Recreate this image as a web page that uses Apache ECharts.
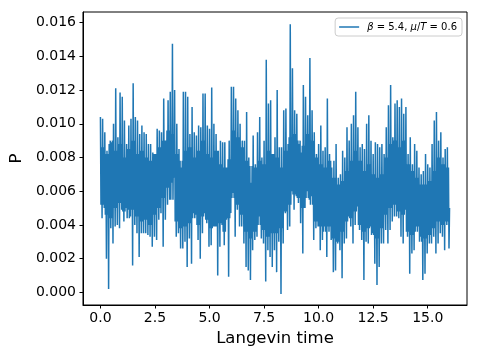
<!DOCTYPE html>
<html>
<head>
<meta charset="utf-8">
<script src="https://cdn.jsdelivr.net/npm/echarts@6/dist/echarts.min.js"></script>
<style>
html, body { margin: 0; padding: 0; background: #fff; }
#chart { width: 480px; height: 360px; }
</style>
</head>
<body>
<div id="chart"></div>
<script>
// Langevin time sampled every 0.1; for each step an upper and a lower excursion of P
const step = 0.1
const tEnd = 16.0
const pEnd = 0.0050

const highs = [
  0.01040, 0.01030, 0.00950, 0.00840, 0.00880, 0.00890, 0.01000, 0.01210, 0.00920, 0.01185,
  0.01160, 0.01020, 0.00880, 0.00990, 0.01030, 0.01240, 0.01040, 0.01020, 0.00940, 0.00990,
  0.00950, 0.00940, 0.00880, 0.00880, 0.00830, 0.00820, 0.00970, 0.00960, 0.00950, 0.01150,
  0.00900, 0.01140, 0.01190, 0.01475, 0.01200, 0.01000, 0.00850, 0.00740, 0.01190, 0.01190,
  0.01160, 0.00940, 0.01100, 0.00950, 0.00930, 0.00990, 0.00980, 0.01180, 0.01180, 0.00990,
  0.00970, 0.01215, 0.01000, 0.00940, 0.00840, 0.00900, 0.00890, 0.00890, 0.00740, 0.00900,
  0.01220, 0.01220, 0.01150, 0.01080, 0.01000, 0.00900, 0.00900, 0.01070, 0.00800, 0.00650,
  0.00930, 0.00760, 0.00950, 0.01040, 0.00800, 0.00900, 0.01380, 0.01120, 0.01140, 0.00820,
  0.00920, 0.01200, 0.00860, 0.00860, 0.01080, 0.01090, 0.00880, 0.01590, 0.01330, 0.01080,
  0.01060, 0.00880, 0.00830, 0.01230, 0.01160, 0.01050, 0.01390, 0.01080, 0.00950, 0.00820,
  0.00880, 0.00990, 0.00840, 0.00860, 0.01150, 0.00820, 0.00740, 0.00780, 0.00880, 0.00680,
  0.00700, 0.00840, 0.00800, 0.00980, 0.00900, 0.01000, 0.01050, 0.01190, 0.00980, 0.00860,
  0.00880, 0.00850, 0.01000, 0.01050, 0.00900, 0.00820, 0.00890, 0.00880, 0.00860, 0.00880,
  0.00820, 0.00980, 0.01110, 0.01230, 0.00920, 0.01120, 0.01140, 0.01100, 0.01150, 0.01060,
  0.01100, 0.00820, 0.00920, 0.00760, 0.00880, 0.00840, 0.00740, 0.00700, 0.00720, 0.00820,
  0.00760, 0.00740, 0.00880, 0.01020, 0.01070, 0.00900, 0.00950, 0.00800, 0.00850, 0.00860
]

const lows = [
  0.00440, 0.00500, 0.00200, 0.00020, 0.00380, 0.00290, 0.00390, 0.00400, 0.00380, 0.00490,
  0.00420, 0.00500, 0.00490, 0.00450, 0.00160, 0.00400, 0.00350, 0.00210, 0.00350, 0.00350,
  0.00350, 0.00340, 0.00330, 0.00270, 0.00330, 0.00310, 0.00430, 0.00470, 0.00270, 0.00430,
  0.00520, 0.00550, 0.00650, 0.00680, 0.00330, 0.00350, 0.00260, 0.00260, 0.00300, 0.00150,
  0.00320, 0.00170, 0.00470, 0.00460, 0.00310, 0.00200, 0.00350, 0.00470, 0.00410, 0.00270,
  0.00280, 0.00390, 0.00390, 0.00100, 0.00270, 0.00400, 0.00280, 0.00430, 0.00093, 0.00470,
  0.00590, 0.00330, 0.00490, 0.00390, 0.00390, 0.00290, 0.00150, 0.00130, 0.00073, 0.00250,
  0.00310, 0.00330, 0.00450, 0.00320, 0.00290, 0.00064, 0.00250, 0.00210, 0.00150, 0.00250,
  0.00120, 0.00300, -0.00010, 0.00290, 0.00470, 0.00370, 0.00390, 0.00600, 0.00490, 0.00570,
  0.00530, 0.00410, 0.00230, 0.00500, 0.00600, 0.00550, 0.00570, 0.00310, 0.00380, 0.00390,
  0.00250, 0.00310, 0.00390, 0.00210, 0.00360, 0.00310, 0.00120, 0.00130, 0.00290, 0.00250,
  0.00083, 0.00290, 0.00320, 0.00450, 0.00390, 0.00290, 0.00400, 0.00510, 0.00370, 0.00310,
  0.00073, 0.00300, 0.00290, 0.00390, 0.00350, 0.00170, 0.00044, 0.00150, 0.00290, 0.00290,
  0.00370, 0.00290, 0.00370, 0.00420, 0.00450, 0.00450, 0.00440, 0.00330, 0.00290, 0.00490,
  0.00330, 0.00110, 0.00230, 0.00250, 0.00390, 0.00390, 0.00330, 0.00073, 0.00110, 0.00230,
  0.00290, 0.00290, 0.00330, 0.00230, 0.00290, 0.00350, 0.00330, 0.00250, 0.00400, 0.00260
]

// edges of the dense core of the trace, one value per 0.2 of Langevin time
const coreBlock = 0.2
const coreHigh = [
  0.0086, 0.0082, 0.0090, 0.0084, 0.0088, 0.0080, 0.0085, 0.0090, 0.0082, 0.0084,
  0.0080, 0.0078, 0.0082, 0.0086, 0.0090, 0.0096, 0.0094, 0.0082, 0.0078, 0.0084,
  0.0086, 0.0080, 0.0084, 0.0090, 0.0082, 0.0080, 0.0084, 0.0076, 0.0074, 0.0079,
  0.0096, 0.0092, 0.0086, 0.0078, 0.0075, 0.0074, 0.0078, 0.0076, 0.0084, 0.0082,
  0.0080, 0.0074, 0.0084, 0.0092, 0.0094, 0.0090, 0.0087, 0.0094, 0.0090, 0.0080,
  0.0076, 0.0074, 0.0078, 0.0068, 0.0064, 0.0066, 0.0072, 0.0078, 0.0084, 0.0078,
  0.0072, 0.0076, 0.0070, 0.0068, 0.0070, 0.0080, 0.0088, 0.0090, 0.0086, 0.0090,
  0.0076, 0.0072, 0.0068, 0.0064, 0.0064, 0.0066, 0.0072, 0.0080, 0.0076, 0.0074
]
const coreLow = [
  0.0052, 0.0046, 0.0044, 0.0050, 0.0053, 0.0048, 0.0044, 0.0049, 0.0045, 0.0042,
  0.0043, 0.0040, 0.0046, 0.0050, 0.0056, 0.0062, 0.0055, 0.0042, 0.0038, 0.0039,
  0.0041, 0.0044, 0.0040, 0.0045, 0.0043, 0.0038, 0.0039, 0.0041, 0.0036, 0.0044,
  0.0056, 0.0052, 0.0046, 0.0036, 0.0032, 0.0036, 0.0040, 0.0037, 0.0033, 0.0035,
  0.0035, 0.0038, 0.0048, 0.0052, 0.0058, 0.0056, 0.0050, 0.0056, 0.0052, 0.0042,
  0.0039, 0.0036, 0.0039, 0.0032, 0.0030, 0.0036, 0.0042, 0.0044, 0.0048, 0.0040,
  0.0036, 0.0038, 0.0034, 0.0032, 0.0038, 0.0046, 0.0050, 0.0052, 0.0048, 0.0046,
  0.0036, 0.0034, 0.0036, 0.0030, 0.0032, 0.0034, 0.0038, 0.0042, 0.0040, 0.0042
]

const xTicks = [0, 2.5, 5, 7.5, 10, 12.5, 15]
const yTicks = [0, 0.002, 0.004, 0.006, 0.008, 0.010, 0.012, 0.014, 0.016]

const data = []
highs.forEach((h, i) => {
  const t = i * step
  const b = Math.floor((i + 0.5) * step / coreBlock)
  data.push([t, h])
  data.push([t + step / 4, coreLow[b]])
  data.push([t + step / 2, coreHigh[b]])
  data.push([t + 3 * step / 4, lows[i]])
})
data.push([tEnd, pEnd])

const font = 'DejaVu Sans'
const chart = echarts.init(document.getElementById('chart'))
chart.setOption({
  animation: false,
  grid: {
    left: 80, right: 13, top: 12, bottom: 55,
    show: true, borderColor: '#000', borderWidth: 1
  },
  legend: {
    right: 18, top: 18,
    icon: 'rect',
    itemWidth: 20, itemHeight: 1.5,
    padding: [4, 5, 4, 4],
    borderColor: '#cccccc', borderWidth: 1, borderRadius: 3,
    backgroundColor: '#fff',
    formatter: () => '{i|β} = 5.4, {i|μ}/{i|T} = 0.6',
    textStyle: {
      fontFamily: font, fontSize: 10, color: '#000', padding: [0, 0, 0, 3],
      rich: { i: { fontFamily: font, fontSize: 10, fontStyle: 'italic', color: '#000' } }
    }
  },
  xAxis: {
    type: 'value', min: -0.8, max: 16.8,
    name: 'Langevin time', nameLocation: 'middle', nameGap: 24,
    nameTextStyle: { fontFamily: font, fontSize: 16.5, color: '#000' },
    axisLine: { show: true, onZero: false, lineStyle: { color: '#000', width: 1 } },
    axisTick: { show: true, length: 3.5, customValues: xTicks, lineStyle: { color: '#000' } },
    axisLabel: {
      customValues: xTicks, formatter: v => v.toFixed(1),
      color: '#000', fontFamily: font, fontSize: 14, margin: 6
    },
    splitLine: { show: false }
  },
  yAxis: {
    type: 'value', min: -0.00075, max: 0.01663,
    name: 'P', nameLocation: 'middle', nameGap: 54, nameRotate: 90,
    nameTextStyle: { fontFamily: font, fontSize: 16.5, color: '#000' },
    axisLine: { show: true, onZero: false, lineStyle: { color: '#000', width: 1 } },
    axisTick: { show: true, length: 3.5, customValues: yTicks, lineStyle: { color: '#000' } },
    axisLabel: {
      customValues: yTicks, formatter: v => v.toFixed(3),
      color: '#000', fontFamily: font, fontSize: 14, margin: 7
    },
    splitLine: { show: false }
  },
  series: [{
    name: 'beta',
    type: 'line',
    data: data,
    symbol: 'none',
    sampling: null,
    lineStyle: { color: '#1f77b4', width: 1.5 },
    itemStyle: { color: '#1f77b4' }
  }]
})
</script>
</body>
</html>
